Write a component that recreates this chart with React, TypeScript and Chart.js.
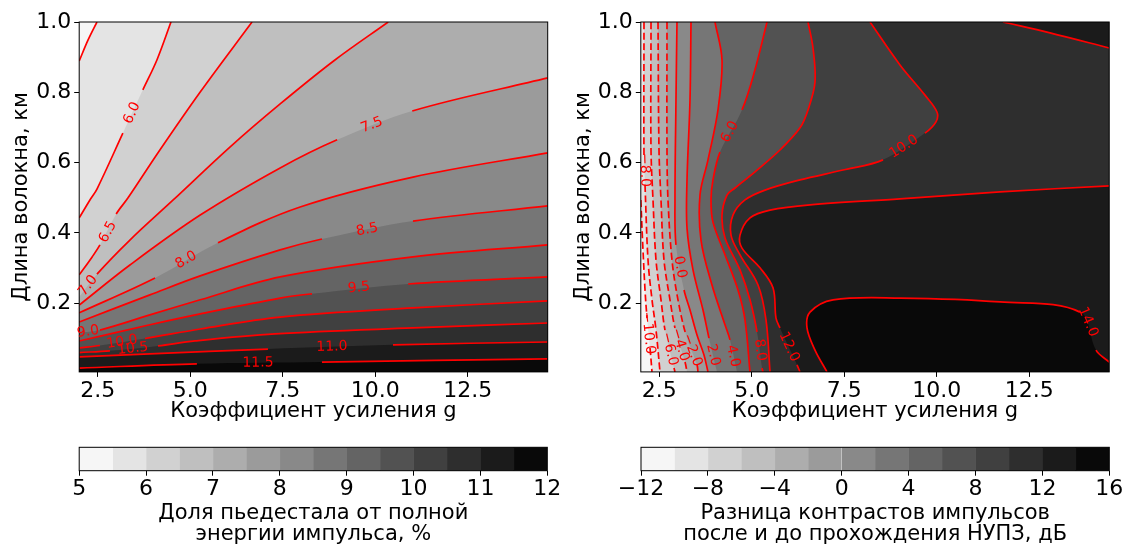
import React, { useEffect, useRef } from "react";
import { Chart, registerables } from "chart.js";

Chart.register(...registerables);

const FONT = '"DejaVu Sans", "Liberation Sans", sans-serif';

// ---------- axes ----------
const X_MIN = 2;
const X_MAX = 14.66;
const Y_MIN = 0.005;
const Y_MAX = 1.0;
const X_TICKS = [2.5, 5.0, 7.5, 10.0, 12.5];
const Y_TICKS = [0.2, 0.4, 0.6, 0.8, 1.0];

// ---------- colour levels / colorbars ----------
const LEFT_LEVELS = [5, 5.5, 6, 6.5, 7, 7.5, 8, 8.5, 9, 9.5, 10, 10.5, 11, 11.5, 12];
const RIGHT_LEVELS = [-12, -10, -8, -6, -4, -2, 0, 2, 4, 6, 8, 10, 12, 14, 16];
const LEFT_CB_TICKS = [5, 6, 7, 8, 9, 10, 11, 12];
const RIGHT_CB_TICKS = [-12, -8, -4, 0, 4, 8, 12, 16];

const X_LABEL = "Коэффициент усиления g";
const Y_LABEL = "Длина волокна, км";
const LEFT_CB_LABEL = ["Доля пьедестала от полной", "энергии импульса, %"];
const RIGHT_CB_LABEL = ["Разница контрастов импульсов", "после и до прохождения НУПЗ, дБ"];

const G = [NaN, NaN]; // break in a drawn contour (label gap)

// ---------- left panel contour lines [g, L] ----------
const L_5_5 = [[2, 0.889], [2.24, 0.949], [2.48, 1]];
const L_6_0 = [[2, 0.443], [2.29, 0.494], [2.48, 0.525], [3.18, 0.684], G, [3.72, 0.807], [4.1, 0.892], [4.48, 1]];
const L_6_5 = [[2, 0.281], [2.35, 0.332], [2.56, 0.366], G, [3.0, 0.454], [3.32, 0.5], [4.18, 0.636], [5.27, 0.801], [6.67, 1]];
const L_7_0 = [[2, 0.218], G, [2.48, 0.283], [3.37, 0.38], [4.54, 0.494], [6.08, 0.645], [7.43, 0.767], [8.91, 0.892], [10.35, 1]];
const L_7_5 = [[2, 0.195], [3.37, 0.309], [5.27, 0.451], [7.43, 0.585], [8.97, 0.665], G, [11.0, 0.747], [14.66, 0.841]];
const L_8_0 = [[2, 0.173], [4.05, 0.272], G, [5.75, 0.372], [7.97, 0.474], [11.02, 0.559], [14.66, 0.628]];
const L_8_5 = [[2, 0.147], [3.91, 0.224], [5.27, 0.278], [7.43, 0.352], [8.56, 0.383], G, [11.02, 0.434], [14.66, 0.477]];
const L_9_0 = [[2, 0.116], G, [2.56, 0.124], [3.91, 0.167], [5.27, 0.21], [7.43, 0.275], [11.02, 0.332], [14.66, 0.366]];
const L_9_5 = [[2, 0.093], [3.91, 0.139], [5.27, 0.17], [7.43, 0.215], [8.29, 0.227], G, [10.89, 0.255], [14.66, 0.275]];
const L_10_0 = [[2, 0.073], [2.56, 0.08], G, [3.78, 0.1], [5.27, 0.127], [7.43, 0.161], [11.02, 0.187], [14.66, 0.207]];
const L_10_5 = [[2, 0.06], [2.83, 0.065], G, [4.13, 0.079], [5.13, 0.093], [7.29, 0.113], [11.02, 0.13], [14.66, 0.144]];
const L_11_0 = [[2, 0.048], [3.91, 0.056], [7.1, 0.07], G, [10.48, 0.082], [14.66, 0.09]];
const L_11_5 = [[2, 0.016], [5.18, 0.028], G, [8.56, 0.033], [14.66, 0.042]];

const LEFT_LINES = [
  { level: 5.5, pts: L_5_5 },
  { level: 6.0, pts: L_6_0 },
  { level: 6.5, pts: L_6_5 },
  { level: 7.0, pts: L_7_0 },
  { level: 7.5, pts: L_7_5 },
  { level: 8.0, pts: L_8_0 },
  { level: 8.5, pts: L_8_5 },
  { level: 9.0, pts: L_9_0 },
  { level: 9.5, pts: L_9_5 },
  { level: 10.0, pts: L_10_0 },
  { level: 10.5, pts: L_10_5 },
  { level: 11.0, pts: L_11_0 },
  { level: 11.5, pts: L_11_5 },
];

const LEFT_LABELS = [
  { level: 6.0, x: 3.43, y: 0.741 },
  { level: 6.5, x: 2.78, y: 0.403 },
  { level: 7.0, x: 2.24, y: 0.25 },
  { level: 7.5, x: 9.91, y: 0.707 },
  { level: 8.0, x: 4.89, y: 0.323 },
  { level: 8.5, x: 9.78, y: 0.409 },
  { level: 9.0, x: 2.24, y: 0.119 },
  { level: 9.5, x: 9.56, y: 0.244 },
  { level: 10.0, x: 3.16, y: 0.09 },
  { level: 10.5, x: 3.45, y: 0.071 },
  { level: 11.0, x: 8.83, y: 0.076 },
  { level: 11.5, x: 6.83, y: 0.0305 },
];

// ---------- right panel contour lines [g, L] (read top -> bottom) ----------
const R_M10 = [[2, 0.494], [2.059, 0.352], [2.114, 0.238], [2.168, 0.158], G, [2.249, 0.073], [2.303, 0.005]];
const R_M8 = [[2.086, 1], [2.086, 0.622], G, [2.114, 0.537], [2.195, 0.323], [2.303, 0.21], [2.411, 0.124], [2.519, 0.005]];
const R_M6 = [[2.276, 1], [2.276, 0.636], [2.33, 0.494], [2.411, 0.323], [2.546, 0.21], [2.654, 0.124], G, [2.897, 0.016], [2.924, 0.005]];
const R_M4 = [[2.465, 1], [2.492, 0.636], [2.546, 0.494], [2.627, 0.323], [2.789, 0.21], [2.924, 0.13], G, [3.195, 0.033], [3.249, 0.005]];
const R_M2 = [[2.708, 1], [2.708, 0.636], [2.735, 0.494], [2.843, 0.323], [3.005, 0.21], [3.222, 0.11], G, [3.519, 0.025], [3.546, 0.005]];
const R_0 = [[2.978, 1], [2.951, 0.778], [2.924, 0.494], [2.951, 0.366], G, [3.168, 0.238], [3.33, 0.181], [3.519, 0.11], [3.708, 0.053], [3.816, 0.005]];
const R_2 = [[3.357, 1], [3.33, 0.778], [3.249, 0.551], [3.249, 0.414], [3.411, 0.295], [3.681, 0.181], [3.843, 0.101], G, [4.059, 0.005]];
const R_4 = [[4.005, 1], [4.195, 0.892], [4.086, 0.75], [3.816, 0.608], [3.6, 0.508], [3.627, 0.38], [3.924, 0.252], [4.276, 0.139], [4.411, 0.096], G, [4.6, 0.005]];
const R_6 = [[5.411, 1], [5.086, 0.864], [4.735, 0.75], G, [4.141, 0.63], [3.951, 0.551], [3.897, 0.494], [3.951, 0.431], [4.276, 0.338], [4.627, 0.238], [4.816, 0.153], [4.951, 0.005]];
const R_8 = [[6.519, 1], [6.654, 0.926], [6.708, 0.829], [6.519, 0.75], [6.303, 0.699], [5.762, 0.636], [5.086, 0.574], [4.546, 0.528], [4.33, 0.508], [4.195, 0.451], [4.276, 0.386], [4.681, 0.295], [4.951, 0.21], [5.141, 0.119], G, [5.276, 0.016], [5.303, 0.005]];
const R_10 = [[8.195, 1], [9.005, 0.878], [9.681, 0.792], [10.005, 0.744], [9.978, 0.716], [9.681, 0.684], G, [8.546, 0.608], [7.465, 0.579], [6.303, 0.551], [5.357, 0.522], [4.816, 0.494], [4.492, 0.451], [4.438, 0.394], [4.681, 0.338], [5.168, 0.252], [5.384, 0.153], [5.492, 0.005]];
const R_12 = [[14.66, 0.534], [11.708, 0.517], [9.005, 0.497], [6.573, 0.48], [5.492, 0.465], [4.951, 0.443], [4.681, 0.394], [4.735, 0.357], [5.222, 0.301], [5.573, 0.244], [5.654, 0.158], [5.762, 0.13], G, [6.222, 0.025], [6.303, 0.005]];
const R_12_TOP = [[11.789, 1], [13.059, 0.969], [14.66, 0.926]];
const R_14 = [[14.66, 0.033], [14.303, 0.067], G, [13.87, 0.175], [11.708, 0.204], [9.005, 0.215], [7.195, 0.21], [6.573, 0.175], [6.492, 0.13], [6.708, 0.067], [7.032, 0.005]];

const RIGHT_LINES = [
  { level: -10, pts: R_M10 },
  { level: -8, pts: R_M8 },
  { level: -6, pts: R_M6 },
  { level: -4, pts: R_M4 },
  { level: -2, pts: R_M2 },
  { level: 0, pts: R_0 },
  { level: 2, pts: R_2 },
  { level: 4, pts: R_4 },
  { level: 6, pts: R_6 },
  { level: 8, pts: R_8 },
  { level: 10, pts: R_10 },
  { level: 12, pts: R_12 },
  { level: 12, pts: R_12_TOP },
  { level: 14, pts: R_14 },
];

const RIGHT_LABELS = [
  { level: -10, x: 2.195, y: 0.116 },
  { level: -8, x: 2.1, y: 0.579 },
  { level: -6, x: 2.776, y: 0.07 },
  { level: -4, x: 3.059, y: 0.082 },
  { level: -2, x: 3.384, y: 0.067 },
  { level: 0, x: 3.059, y: 0.303 },
  { level: 2, x: 3.951, y: 0.053 },
  { level: 4, x: 4.492, y: 0.05 },
  { level: 6, x: 4.411, y: 0.687 },
  { level: 8, x: 5.222, y: 0.067 },
  { level: 10, x: 9.114, y: 0.645 },
  { level: 12, x: 6.005, y: 0.076 },
  { level: 14, x: 14.086, y: 0.147 },
];

// ---------- layout (page pixels) ----------
const PLOT_TOP = 22;
const PLOT_BOTTOM = 371.9;
const CB_TOP = 447.3;
const CB_BOTTOM = 470.7;
const MAIN_H = 430;
const CB_Y = 430;
const CB_H = 130;
const TENSION = 0.35;

// ---------- helpers ----------
const band = (k, n) => {
  const v = Math.round(255 * (1 - (k + 0.5) / n));
  return `rgb(${v},${v},${v})`;
};
const fmtLevel = (v) => (v < 0 ? "\u2212" : "") + Math.abs(v).toFixed(1);
const fmtInt = (v) => (v < 0 ? "\u2212" : "") + String(Math.abs(v));

const CORNERS = [
  [X_MIN, Y_MAX],
  [X_MAX, Y_MAX],
  [X_MAX, Y_MIN],
  [X_MIN, Y_MIN],
];
function perim(p) {
  const [x, y] = p;
  const e = 1e-9;
  if (Math.abs(y - Y_MAX) < e) return (x - X_MIN) / (X_MAX - X_MIN);
  if (Math.abs(x - X_MAX) < e) return 1 + (Y_MAX - y) / (Y_MAX - Y_MIN);
  if (Math.abs(y - Y_MIN) < e) return 2 + (X_MAX - x) / (X_MAX - X_MIN);
  return 3 + (y - Y_MIN) / (Y_MAX - Y_MIN);
}
// region on the high side of a contour: the contour, then the frame walked clockwise.
// Frame vertices are doubled so the spline keeps the frame edges straight.
function closeRegion(path) {
  const tEnd = perim(path[path.length - 1]);
  let tStart = perim(path[0]);
  if (tStart <= tEnd) tStart += 4;
  const out = path.slice();
  out.push(path[path.length - 1]);
  for (let c = Math.floor(tEnd) + 1; c < tStart; c++) {
    out.push(CORNERS[c % 4]);
    out.push(CORNERS[c % 4]);
  }
  return out;
}

const fillDs = (pts, color, order, tension) => ({
  data: pts.map(([x, y]) => ({ x, y })),
  fill: "shape",
  backgroundColor: color,
  borderColor: "rgba(0,0,0,0)",
  borderWidth: 0,
  pointRadius: 0,
  pointHoverRadius: 0,
  tension,
  order,
});

function lineDs(pts, dashed) {
  const clean = [];
  const gaps = new Set();
  for (const p of pts) {
    if (isNaN(p[0])) gaps.add(clean.length - 1);
    else clean.push(p);
  }
  return {
    data: clean.map(([x, y]) => ({ x, y })),
    fill: false,
    backgroundColor: "rgba(0,0,0,0)",
    borderColor: "#ff0000",
    borderWidth: 1.7,
    borderDash: dashed ? [7, 3.5] : [],
    borderJoinStyle: "round",
    pointRadius: 0,
    pointHoverRadius: 0,
    tension: TENSION,
    order: 0,
    segment: {
      borderColor: (c) => (gaps.has(c.p0DataIndex) ? "rgba(0,0,0,0)" : undefined),
    },
  };
}

const framePlugin = {
  id: "frame",
  afterDatasetsDraw(chart) {
    const { ctx, chartArea: a } = chart;
    ctx.save();
    ctx.strokeStyle = "#000";
    ctx.lineWidth = 1;
    ctx.strokeRect(a.left, a.top, a.right - a.left, a.bottom - a.top);
    ctx.restore();
  },
};

function labelPlugin(lines, labels) {
  return {
    id: "clabels",
    afterDatasetsDraw(chart) {
      const { ctx } = chart;
      const xs = chart.scales.x;
      const ys = chart.scales.y;
      ctx.save();
      ctx.font = `14px ${FONT}`;
      ctx.fillStyle = "#ff0000";
      ctx.textAlign = "center";
      ctx.textBaseline = "middle";
      for (const lb of labels) {
        const line = lines.find((l) => l.level === lb.level);
        if (!line) continue;
        const pts = line.pts
          .filter((p) => !isNaN(p[0]))
          .map((p) => [xs.getPixelForValue(p[0]), ys.getPixelForValue(p[1])]);
        const px = xs.getPixelForValue(lb.x);
        const py = ys.getPixelForValue(lb.y);
        let best = Infinity;
        let ang = 0;
        for (let i = 0; i < pts.length - 1; i++) {
          const [ax, ay] = pts[i];
          const [bx, by] = pts[i + 1];
          const dx = bx - ax;
          const dy = by - ay;
          const l2 = dx * dx + dy * dy || 1;
          let t = ((px - ax) * dx + (py - ay) * dy) / l2;
          t = Math.max(0, Math.min(1, t));
          const qx = ax + t * dx - px;
          const qy = ay + t * dy - py;
          const d = qx * qx + qy * qy;
          if (d < best) {
            best = d;
            ang = Math.atan2(dy, dx);
          }
        }
        if (ang > Math.PI / 2) ang -= Math.PI;
        if (ang <= -Math.PI / 2) ang += Math.PI;
        ctx.save();
        ctx.translate(px, py);
        ctx.rotate(ang);
        ctx.fillText(fmtLevel(lb.level), 0, 0);
        ctx.restore();
      }
      ctx.restore();
    },
  };
}

const tickFont = { family: FONT, size: 22, lineHeight: 1 };
const titleFont = { family: FONT, size: 21, lineHeight: 1.2 };
const gridCfg = {
  display: true,
  drawOnChartArea: false,
  drawTicks: true,
  tickLength: 5,
  tickWidth: 1,
  tickColor: "#000",
  color: "#000",
};

function mainConfig({ lines, labels, levels, reverse, areaLeft, areaRight, cx, cw, yTitlePad }) {
  const n = levels.length - 1;
  const step = levels[1] - levels[0];
  const datasets = [];
  datasets.push(fillDs(CORNERS.slice(), band(0, n), 100, 0));
  for (const ln of lines) {
    const k = Math.round((ln.level - levels[0]) / step);
    const ordered = reverse ? ln.pts.slice().reverse() : ln.pts;
    const path = ordered.filter((p) => !isNaN(p[0]));
    datasets.push(fillDs(closeRegion(path), band(k, n), 100 - k, TENSION));
  }
  for (const ln of lines) datasets.push(lineDs(ln.pts, ln.level < 0));

  return {
    type: "line",
    data: { datasets },
    options: {
      animation: false,
      responsive: false,
      events: [],
      layout: { padding: { left: 0, top: PLOT_TOP, right: cx + cw - areaRight, bottom: 0 } },
      plugins: {
        legend: { display: false },
        tooltip: { enabled: false },
        title: { display: false },
        colors: { enabled: false },
      },
      scales: {
        x: {
          type: "linear",
          min: X_MIN,
          max: X_MAX,
          afterBuildTicks: (s) => {
            s.ticks = X_TICKS.map((v) => ({ value: v }));
          },
          afterFit: (s) => {
            s.height = MAIN_H - PLOT_BOTTOM;
          },
          ticks: {
            font: tickFont,
            color: "#000",
            padding: 3.4,
            autoSkip: false,
            maxRotation: 0,
            minRotation: 0,
            callback: (v) => Number(v).toFixed(1),
          },
          grid: gridCfg,
          border: { display: false },
          title: {
            display: true,
            text: X_LABEL,
            font: titleFont,
            color: "#000",
            padding: { top: 0, bottom: 6 },
          },
        },
        y: {
          type: "linear",
          min: Y_MIN,
          max: Y_MAX,
          afterBuildTicks: (s) => {
            s.ticks = Y_TICKS.map((v) => ({ value: v }));
          },
          afterFit: (s) => {
            s.width = areaLeft - cx;
          },
          ticks: {
            font: tickFont,
            color: "#000",
            padding: 3,
            autoSkip: false,
            callback: (v) => Number(v).toFixed(1),
          },
          grid: gridCfg,
          border: { display: false },
          title: {
            display: true,
            text: Y_LABEL,
            font: titleFont,
            color: "#000",
            padding: { top: yTitlePad, bottom: 0 },
          },
        },
      },
    },
    plugins: [framePlugin, labelPlugin(lines, labels)],
  };
}

function cbConfig({ levels, ticks, title, areaLeft, areaRight, cx, cw }) {
  const n = levels.length - 1;
  return {
    type: "bar",
    data: {
      labels: [""],
      datasets: levels.slice(0, -1).map((lo, i) => ({
        data: [[lo, levels[i + 1]]],
        backgroundColor: band(i, n),
        borderWidth: 0,
        barPercentage: 1,
        categoryPercentage: 1,
        grouped: false,
      })),
    },
    options: {
      indexAxis: "y",
      animation: false,
      responsive: false,
      events: [],
      layout: {
        padding: { left: areaLeft - cx, right: cx + cw - areaRight, top: CB_TOP - CB_Y, bottom: 0 },
      },
      plugins: {
        legend: { display: false },
        tooltip: { enabled: false },
        title: { display: false },
        colors: { enabled: false },
      },
      scales: {
        y: { display: false },
        x: {
          type: "linear",
          min: levels[0],
          max: levels[n],
          afterBuildTicks: (s) => {
            s.ticks = ticks.map((v) => ({ value: v }));
          },
          afterFit: (s) => {
            s.height = CB_H - (CB_BOTTOM - CB_Y);
          },
          ticks: {
            font: tickFont,
            color: "#000",
            padding: 2.5,
            autoSkip: false,
            maxRotation: 0,
            minRotation: 0,
            callback: (v) => fmtInt(Number(v)),
          },
          grid: gridCfg,
          border: { display: false },
          title: {
            display: true,
            text: title,
            font: { family: FONT, size: 21, lineHeight: 20.5 / 21 },
            color: "#000",
            padding: { top: 0, bottom: 15.5 },
          },
        },
      },
    },
    plugins: [framePlugin],
  };
}

function ChartCanvas({ left, top, width, height, make }) {
  const ref = useRef(null);
  useEffect(() => {
    const chart = new Chart(ref.current, make());
    return () => chart.destroy();
  }, []);
  return (
    <canvas
      ref={ref}
      width={width}
      height={height}
      style={{ position: "absolute", left, top, width, height }}
    />
  );
}

export default function App() {
  return (
    <div
      style={{
        position: "absolute",
        left: 0,
        top: 0,
        width: 1126,
        height: 546,
        overflow: "hidden",
        background: "#fff",
      }}
    >
      <ChartCanvas
        left={0}
        top={0}
        width={563}
        height={MAIN_H}
        make={() =>
          mainConfig({
            lines: LEFT_LINES,
            labels: LEFT_LABELS,
            levels: LEFT_LEVELS,
            reverse: false,
            areaLeft: 79.2,
            areaRight: 547.7,
            cx: 0,
            cw: 563,
            yTitlePad: 9.1,
          })
        }
      />
      <ChartCanvas
        left={560}
        top={0}
        width={580}
        height={MAIN_H}
        make={() =>
          mainConfig({
            lines: RIGHT_LINES,
            labels: RIGHT_LABELS,
            levels: RIGHT_LEVELS,
            reverse: true,
            areaLeft: 640.8,
            areaRight: 1109.2,
            cx: 560,
            cw: 580,
            yTitlePad: 10.7,
          })
        }
      />
      <ChartCanvas
        left={0}
        top={CB_Y}
        width={575}
        height={CB_H}
        make={() =>
          cbConfig({
            levels: LEFT_LEVELS,
            ticks: LEFT_CB_TICKS,
            title: LEFT_CB_LABEL,
            areaLeft: 79.2,
            areaRight: 547.3,
            cx: 0,
            cw: 575,
          })
        }
      />
      <ChartCanvas
        left={560}
        top={CB_Y}
        width={580}
        height={CB_H}
        make={() =>
          cbConfig({
            levels: RIGHT_LEVELS,
            ticks: RIGHT_CB_TICKS,
            title: RIGHT_CB_LABEL,
            areaLeft: 641,
            areaRight: 1109.3,
            cx: 560,
            cw: 580,
          })
        }
      />
    </div>
  );
}
